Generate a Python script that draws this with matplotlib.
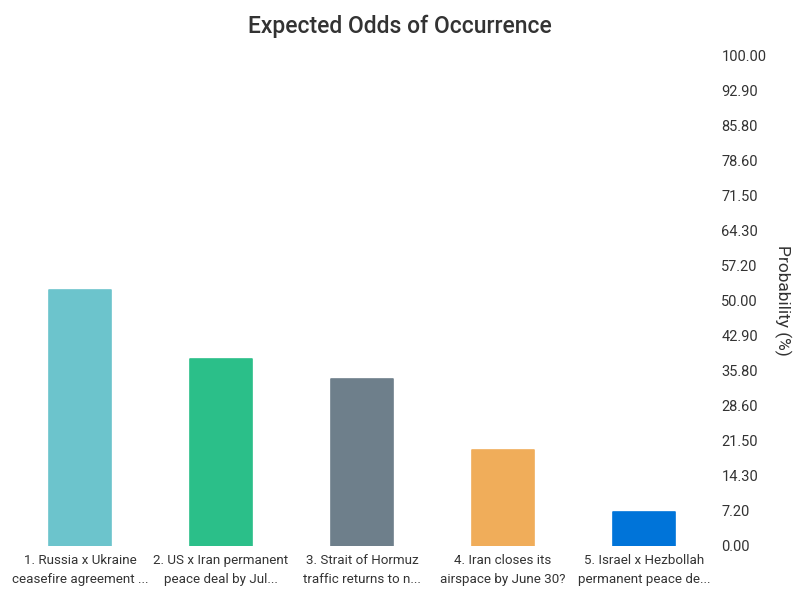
import matplotlib
matplotlib.use("Agg")
import matplotlib.pyplot as plt
import numpy as np

categories = [
    "1. Russia x Ukraine\nceasefire agreement ...",
    "2. US x Iran permanent\npeace deal by Jul...",
    "3. Strait of Hormuz\ntraffic returns to n...",
    "4. Iran closes its\nairspace by June 30?",
    "5. Israel x Hezbollah\npermanent peace de...",
]
values = [52.0, 38.0, 34.0, 19.5, 6.9]
colors = ["#6CC4CC", "#2BBF89", "#6E7F8B", "#F0AD5A", "#0074D9"]
tick_values = [i * 100 / 14 for i in range(15)]
tick_labels = ["0.00", "7.20", "14.30", "21.50", "28.60", "35.80", "42.90", "50.00",
               "57.20", "64.30", "71.50", "78.60", "85.80", "92.90", "100.00"]

plt.rcParams["font.family"] = ["Roboto", "DejaVu Sans"]

fig = plt.figure(figsize=(8, 6), dpi=100)
ax = fig.add_axes([0.012, 0.0908, 0.881, 0.8175])

x = np.arange(len(categories))
ax.bar(x, values, width=0.44, color=colors, edgecolor=colors, linewidth=1.2,
       joinstyle="round")

ax.set_xlim(-0.5, len(categories) - 0.5)
ax.set_ylim(0, 100)
ax.yaxis.tick_right()
ax.yaxis.set_label_position("right")
ax.set_yticks(tick_values)
ax.set_yticklabels(tick_labels, fontsize=10.5, color="#333333")
ax.set_xticks(x)
ax.set_xticklabels(categories, fontsize=9.6, color="#333333", linespacing=1.6)
ax.tick_params(axis="both", length=0)
ax.tick_params(axis="y", pad=5)
ax.tick_params(axis="x", pad=6)
for s in ax.spines.values():
    s.set_visible(False)

ax.set_ylabel("Probability (%)", rotation=270, fontsize=12.5, color="#333333",
              labelpad=18)
fig.suptitle("Expected Odds of Occurrence", y=0.975, fontsize=16.5,
             fontweight="medium", color="#333333")

fig.savefig("out.png", dpi=100)
